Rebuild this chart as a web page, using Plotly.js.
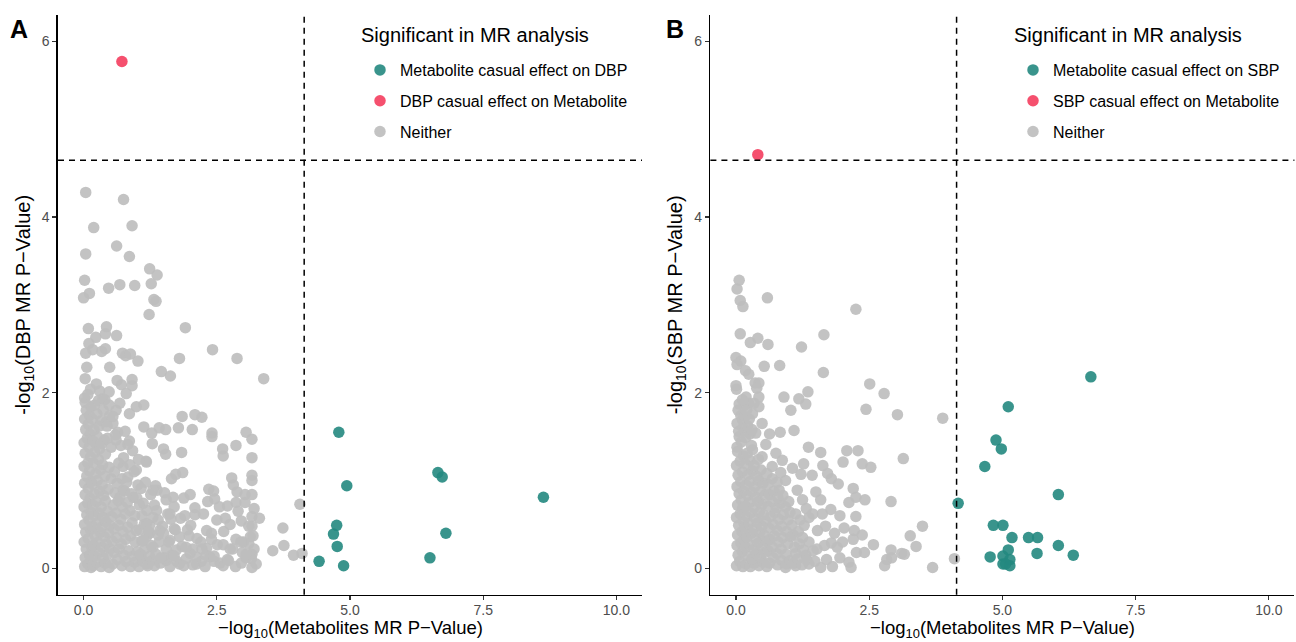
<!DOCTYPE html>
<html>
<head>
<meta charset="utf-8">
<script src="https://cdn.plot.ly/plotly-3.0.1.min.js"></script>
<style>html,body{margin:0;padding:0;background:#fff;}#chart{width:1296px;height:642px;}</style>
</head>
<body>
<div id="chart"></div>
<script>
// ---------- DATA ----------
const xTickVals = [0, 2.5, 5, 7.5, 10];
const xTickText = ["0.0", "2.5", "5.0", "7.5", "10.0"];
const yTickVals = [0, 2, 4, 6];
const yTickText = ["0", "2", "4", "6"];

const thresholdX = 4.14;   // metabolite -> BP threshold
const thresholdY = 4.645;  // BP -> metabolite threshold

const legendA = ["Metabolite casual effect on DBP", "DBP casual effect on Metabolite", "Neither"];
const legendB = ["Metabolite casual effect on SBP", "SBP casual effect on Metabolite", "Neither"];
const legendTitle = "Significant in MR analysis";
const xTitle = "\u2212log<sub>10</sub>(Metabolites MR P\u2212Value)";

// Panel A (DBP)
const redA = [[0.72, 5.77]];
const tealA = [[4.79,1.55],[6.65,1.09],[6.73,1.04],[4.94,0.94],[8.63,0.81],[4.75,0.49],[4.69,0.39],[6.80,0.40],[4.76,0.25],[6.50,0.12],[4.42,0.08],[4.88,0.03]];
const greyA = [
[0.04,4.28],[0.75,4.20],[0.19,3.88],[0.91,3.90],[0.62,3.67],[0.04,3.58],[0.86,3.55],[1.24,3.41],[1.38,3.34],[0.02,3.28],[0.68,3.23],[0.96,3.22],[1.27,3.24],[0.47,3.19],[0.11,3.13],[0.00,3.08],[1.32,3.06],[1.36,3.04],[1.23,2.89],[0.09,2.73],[0.43,2.75],[1.91,2.74],[0.23,2.63],[0.41,2.67],[0.62,2.65],[0.10,2.56],[0.17,2.49],[0.04,2.45],[0.34,2.47],[0.41,2.50],[0.73,2.45],[0.79,2.42],[0.88,2.44],[1.02,2.36],[2.42,2.49],[1.80,2.39],[2.88,2.39],[0.06,2.29],[0.49,2.29],[1.46,2.24],[1.63,2.19],[3.38,2.16],[0.03,2.16],[0.63,2.14],[0.91,2.15],[0.24,2.10],[0.71,2.09],[0.91,2.08],[0.13,2.04],[0.30,2.02],[0.48,2.01],[0.80,1.99],[0.02,1.94],[0.36,1.93],
[1.85,1.73],[2.09,1.75],[2.22,1.72],[1.13,1.61],[1.28,1.54],[1.42,1.60],[1.54,1.58],[1.78,1.60],[2.04,1.58],[2.41,1.54],[2.41,1.50],[3.05,1.55],[3.16,1.47],[0.83,1.41],[1.29,1.42],[1.50,1.36],[1.54,1.30],[1.84,1.32],[2.61,1.36],[2.62,1.28],[2.86,1.40],[3.16,1.26],[1.17,1.22],[1.65,1.02],[1.73,1.07],[1.86,1.09],[2.78,1.03],[2.81,0.95],[3.16,1.06],[3.16,1.00],[1.35,0.94],[1.38,0.89],[1.52,0.86],[1.68,0.81],[2.00,0.84],[2.35,0.90],[2.44,0.88],[2.33,0.76],[2.46,0.79],[2.88,0.87],[3.03,0.84],[3.16,0.84],[2.86,0.75],[3.03,0.75],[2.70,0.71],[3.20,0.68],[4.06,0.73],[2.09,0.69],[2.09,0.61],[1.82,0.57],[1.64,0.56],[2.66,0.57],[2.96,0.54],[3.16,0.59],[3.30,0.57],[3.16,0.48],[2.01,0.49],[2.31,0.43],[2.63,0.42],[3.74,0.46],[1.98,0.37],[2.13,0.34],[2.86,0.33],[3.13,0.36],[3.18,0.37],[2.51,0.27],[2.62,0.27],[3.10,0.28],[3.76,0.26],[2.31,0.23],[3.55,0.20],[3.94,0.15],[4.10,0.17],[2.98,0.18],[3.16,0.16],[3.15,0.11],[2.00,0.17],[1.93,0.11],[2.21,0.08],[2.56,0.06],[2.62,0.03],[2.96,0.06],[3.16,0.01],[1.80,0.05],[1.62,0.02],[1.42,0.30],[1.24,0.49],[1.24,0.40],[1.55,0.22],[1.33,0.03],[1.08,0.13],
[0.74,1.16],[0.99,1.12],[1.18,1.21],[0.83,1.04],[1.02,0.95],[1.30,0.89],[1.55,0.78],[0.74,0.89],[0.93,0.81],[1.12,0.74],[1.37,0.66],[1.62,0.62],[1.18,0.51],[0.99,0.43],[1.43,0.43],[1.80,0.36],[1.30,0.24],[1.62,0.32],[1.74,0.21],[2.12,0.13],[2.37,0.13],[1.18,0.05],[1.55,0.09],
[0.68,1.88],[0.99,1.84],[1.13,1.86],[0.86,1.76],[0.61,1.80],[0.49,1.74],[0.55,1.65],[0.64,1.55],[0.43,1.67],[0.61,1.46],[0.39,1.46],[0.24,1.42],
[0.02,0.02],[0.08,0.05],[0.14,0.01],[0.03,0.12],[0.11,0.15],[0.05,0.22],[0.15,0.25],[0.01,0.30],[0.09,0.34],[0.04,0.41],[0.13,0.44],[0.02,0.50],[0.10,0.55],[0.06,0.61],[0.14,0.64],[0.01,0.70],[0.08,0.74],[0.12,0.80],[0.03,0.84],[0.09,0.91],[0.02,0.97],[0.14,0.99],[0.06,1.05],[0.11,1.11],[0.01,1.16],[0.08,1.20],[0.13,1.27],[0.03,1.31],[0.10,1.38],[0.01,1.43],[0.07,1.48],[0.12,1.53],[0.04,1.58],[0.09,1.64],[0.02,1.70],[0.11,1.74],[0.05,1.80],[0.14,1.84],[0.03,1.89],[0.08,1.98],
[0.18,0.03],[0.25,0.07],[0.33,0.02],[0.41,0.06],[0.48,0.01],[0.21,0.14],[0.29,0.18],[0.37,0.12],[0.45,0.16],[0.19,0.26],[0.27,0.30],[0.35,0.24],[0.43,0.28],[0.50,0.22],[0.22,0.37],[0.31,0.41],[0.39,0.36],[0.47,0.40],[0.17,0.48],[0.26,0.52],[0.34,0.47],[0.42,0.53],[0.49,0.49],[0.20,0.60],[0.29,0.63],[0.37,0.58],[0.45,0.65],[0.18,0.72],[0.24,0.76],[0.33,0.70],[0.41,0.77],[0.21,0.85],[0.30,0.88],[0.38,0.83],[0.46,0.90],[0.17,0.96],[0.26,1.00],[0.35,0.95],[0.23,1.08],[0.32,1.12],[0.40,1.05],[0.19,1.20],[0.28,1.24],[0.36,1.18],[0.21,1.32],[0.30,1.36],[0.18,1.45],[0.26,1.50],[0.34,1.42],[0.20,1.58],[0.29,1.62],[0.17,1.70],[0.25,1.76],[0.33,1.68],[0.21,1.86],[0.28,1.91],[0.37,1.80],[0.44,1.62],[0.41,1.30],[0.48,1.15],[0.52,1.02],[0.45,1.48],[0.40,1.92],[0.48,1.86],[0.55,1.73],
[0.55,0.05],[0.63,0.10],[0.72,0.03],[0.80,0.08],[0.88,0.02],[0.96,0.07],[0.58,0.18],[0.67,0.22],[0.76,0.15],[0.85,0.20],[0.93,0.14],[1.01,0.19],[0.54,0.31],[0.62,0.35],[0.71,0.28],[0.79,0.33],[0.88,0.37],[0.97,0.30],[0.57,0.45],[0.66,0.49],[0.74,0.42],[0.83,0.47],[0.91,0.52],[0.53,0.59],[0.61,0.63],[0.70,0.56],[0.78,0.62],[0.87,0.66],[0.96,0.60],[0.56,0.72],[0.65,0.77],[0.73,0.70],[0.82,0.75],[0.59,0.86],[0.68,0.81],[0.77,0.88],[0.63,0.97],[0.72,1.02],[0.58,1.10],[0.81,0.98],[0.90,0.85],[1.00,0.80],[1.05,0.72],[0.66,1.20],[0.75,1.26],[0.87,1.18],[0.95,1.10],[1.03,1.24],[0.52,1.38],[0.70,1.40],[0.92,1.34],[0.60,1.52],[0.78,1.56],[0.86,1.45],
[1.04,0.02],[1.12,0.08],[1.20,0.03],[1.28,0.09],[1.07,0.16],[1.15,0.22],[1.24,0.14],[1.09,0.31],[1.18,0.36],[1.27,0.26],[1.05,0.44],[1.14,0.50],[1.22,0.42],[1.10,0.60],[1.19,0.66],[1.30,0.58],[1.08,0.91],[1.16,0.98],[1.26,0.84],[1.33,0.72],[1.36,0.16],[1.44,0.06],[1.40,0.38],[1.48,0.48],[1.52,0.12],[1.60,0.30],[1.58,0.62],[1.66,0.15],[1.72,0.44],[1.70,0.70],[1.75,0.08],[1.85,0.25],[1.90,0.60],[1.95,0.44],[1.88,0.80],[2.05,0.22],[2.12,0.05],[2.20,0.30],[2.25,0.62],[2.30,0.15],[2.40,0.40],[2.45,0.08],[2.50,0.55],[2.55,0.70],[2.70,0.10],[2.75,0.50],[2.80,0.22],[2.90,0.65],[3.00,0.30],[3.05,0.12],[3.10,0.48],[3.20,0.22],[3.24,0.05],
[1.45,0.12],[1.70,0.14],[1.88,0.03],[2.05,0.04],[2.28,0.02],[2.45,0.14],[2.72,0.09],[2.85,0.02],[3.05,0.16],[1.50,0.40],[1.70,0.45],[1.92,0.24],[2.22,0.22],[2.40,0.33],[2.75,0.22],[2.95,0.30],[1.12,0.32],[1.40,0.55]
];

// Panel B (SBP)
const redB = [[0.41, 4.71]];
const tealB = [[6.66,2.18],[5.11,1.84],[4.88,1.46],[4.98,1.36],[4.67,1.16],[6.05,0.84],[4.17,0.74],[4.83,0.49],[5.01,0.49],[5.18,0.35],[5.49,0.35],[5.66,0.35],[6.05,0.26],[5.11,0.21],[5.65,0.17],[6.33,0.15],[4.77,0.13],[5.01,0.14],[5.14,0.10],[5.01,0.05],[5.06,0.05],[5.14,0.03]];
const greyB = [
[0.06,3.28],[0.02,3.18],[0.08,3.05],[0.13,2.98],[0.59,3.08],[2.25,2.95],[0.08,2.67],[0.27,2.57],[0.41,2.62],[0.60,2.55],[1.23,2.52],[1.65,2.66],[0.00,2.40],[0.09,2.36],[0.02,2.32],[0.18,2.25],[0.24,2.21],[0.53,2.30],[0.82,2.31],[1.64,2.23],[0.00,2.08],[0.01,2.04],[0.36,2.11],[0.43,2.11],[0.39,2.05],[2.51,2.10],[2.78,1.99],[1.35,2.01],[0.90,1.95],[1.18,1.93],[1.31,1.87],[0.19,1.95],[0.43,1.95],[0.06,1.87],[0.15,1.85],[2.44,1.81],[1.03,1.80],[3.03,1.75],[3.88,1.71],
[1.09,1.57],[0.83,1.55],[0.63,1.53],[0.56,1.41],[1.36,1.38],[1.59,1.32],[2.08,1.34],[2.29,1.34],[2.01,1.21],[2.37,1.19],[2.53,1.15],[3.14,1.25],[1.27,1.19],[1.63,1.17],[1.72,1.08],[1.79,1.02],[1.92,0.96],[1.43,1.06],[1.22,1.07],[1.06,1.14],[2.20,0.91],[2.42,0.78],[2.12,0.75],[2.91,0.76],[2.25,0.81],[1.50,0.87],[1.59,0.78],[1.78,0.67],[1.62,0.62],[2.25,0.59],[2.03,0.46],[2.22,0.43],[2.37,0.38],[3.50,0.48],[3.27,0.37],[3.38,0.25],[2.58,0.27],[1.79,0.29],[1.90,0.24],[1.52,0.22],[2.20,0.33],[2.26,0.18],[2.41,0.18],[2.91,0.21],[2.83,0.10],[2.92,0.12],[3.11,0.17],[3.16,0.16],[2.79,0.03],[3.69,0.01],[4.10,0.11],[1.95,0.12],[2.12,0.07],[1.81,0.02],[2.16,0.01],[1.37,0.05],[1.59,0.01],[1.12,0.03],[0.93,0.01],[1.31,0.15],[1.12,0.17],[1.37,0.30],[1.53,0.43],[1.28,0.49],[1.37,0.58],[1.12,0.62],[1.25,0.78],[1.15,0.89],[0.81,0.89],[0.93,1.00],[0.75,1.31],[0.87,1.23],[0.68,1.16],[0.49,1.27],[0.31,1.35],[0.37,1.54],[0.49,1.65],[0.43,1.84],[0.31,1.76],[0.12,1.69],[0.06,1.50],[0.02,1.38],[0.24,1.88],
[0.01,0.03],[0.07,0.08],[0.13,0.02],[0.04,0.15],[0.12,0.19],[0.02,0.26],[0.09,0.29],[0.15,0.33],[0.03,0.38],[0.11,0.42],[0.05,0.49],[0.14,0.53],[0.01,0.58],[0.08,0.62],[0.12,0.68],[0.03,0.72],[0.10,0.78],[0.06,0.85],[0.14,0.88],[0.02,0.93],[0.09,0.99],[0.04,1.06],[0.12,1.10],[0.01,1.17],[0.08,1.22],[0.14,1.28],[0.03,1.33],[0.10,1.44],[0.05,1.56],[0.13,1.60],[0.02,1.65],[0.09,1.74],[0.04,1.80],[0.12,1.92],
[0.19,0.05],[0.27,0.02],[0.35,0.06],[0.43,0.03],[0.51,0.07],[0.58,0.02],[0.22,0.14],[0.30,0.11],[0.38,0.17],[0.46,0.13],[0.54,0.18],[0.18,0.24],[0.26,0.27],[0.34,0.22],[0.42,0.29],[0.50,0.25],[0.57,0.31],[0.21,0.36],[0.29,0.40],[0.37,0.34],[0.45,0.41],[0.53,0.38],[0.17,0.47],[0.25,0.51],[0.33,0.45],[0.41,0.52],[0.49,0.48],[0.56,0.54],[0.20,0.59],[0.28,0.63],[0.36,0.57],[0.44,0.64],[0.52,0.61],[0.18,0.71],[0.26,0.75],[0.34,0.69],[0.42,0.76],[0.50,0.73],[0.22,0.83],[0.30,0.87],[0.38,0.81],[0.46,0.88],[0.55,0.84],[0.19,0.95],[0.27,0.99],[0.35,0.93],[0.43,1.00],[0.51,0.97],[0.23,1.07],[0.31,1.11],[0.39,1.05],[0.47,1.12],[0.18,1.19],[0.26,1.23],[0.34,1.17],[0.42,1.24],[0.21,1.31],[0.29,1.40],[0.18,1.49],[0.26,1.53],[0.22,1.62],[0.30,1.58],[0.17,1.73],[0.25,1.70],[0.20,1.80],[0.34,1.88],
[0.63,0.06],[0.70,0.12],[0.78,0.04],[0.86,0.09],[0.95,0.05],[0.61,0.20],[0.69,0.24],[0.77,0.17],[0.85,0.22],[0.94,0.16],[1.02,0.09],[0.64,0.33],[0.72,0.37],[0.80,0.30],[0.88,0.35],[0.97,0.28],[0.62,0.46],[0.70,0.50],[0.78,0.43],[0.86,0.48],[0.95,0.42],[1.03,0.36],[0.65,0.59],[0.73,0.63],[0.81,0.56],[0.89,0.61],[0.98,0.55],[0.60,0.71],[0.68,0.76],[0.76,0.69],[0.84,0.74],[0.93,0.70],[0.63,0.84],[0.71,0.88],[0.79,0.80],[0.88,0.83],[0.60,0.96],[0.68,1.02],[0.77,0.98],[0.58,1.08],[0.84,1.09],[0.99,0.76],[1.05,0.49],[1.01,0.64],
[1.08,0.06],[1.16,0.11],[1.24,0.04],[1.33,0.10],[1.10,0.24],[1.19,0.28],[1.27,0.21],[1.08,0.38],[1.17,0.42],[1.25,0.35],[1.20,0.55],[1.32,0.68],[1.45,0.20],[1.48,0.08],[1.44,0.62],[1.66,0.26],[1.70,0.10],[1.68,0.48],[1.85,0.40],[2.00,0.30],[1.95,0.60]
];

// ---------- FIGURE ----------
const teal = 'rgba(35,136,128,0.9)';
const red = '#F5506E';
const grey = 'rgba(190,190,190,0.92)';
const FONT = 'Liberation Sans, Arial, Helvetica, sans-serif';
const MS = 11.5;

function pts(arr, i) { return arr.map(p => p[i]); }

function sc(arr, name, color, xa, ya, leg, rank) {
  return {
    type: 'scatter', mode: 'markers', name: name,
    x: pts(arr, 0), y: pts(arr, 1), xaxis: xa, yaxis: ya,
    legend: leg, legendrank: rank, legendgroup: leg + '_' + rank,
    marker: { color: color, size: MS, line: { width: 0 } },
    hoverinfo: 'x+y'
  };
}

const data = [
  sc(greyA, legendA[2], grey, 'x', 'y', 'legend', 3),
  sc(tealA, legendA[0], teal, 'x', 'y', 'legend', 1),
  sc(redA, legendA[1], red, 'x', 'y', 'legend', 2),
  sc(greyB, legendB[2], grey, 'x2', 'y2', 'legend2', 3),
  sc(tealB, legendB[0], teal, 'x2', 'y2', 'legend2', 1),
  sc(redB, legendB[1], red, 'x2', 'y2', 'legend2', 2)
];

const W = 1296, H = 642;
const yDom = [1 - 594.7 / H, 1 - 15 / H];
const xDomA = [58 / W, 642 / W];
const xDomB = [710.4 / W, 1294.4 / W];

function xAxis(dom, anchor) {
  return {
    domain: dom, anchor: anchor, range: [-0.48, 10.48],
    tickvals: xTickVals, ticktext: xTickText,
    showline: true, linecolor: 'black', linewidth: 1.6,
    ticks: 'outside', ticklen: 4, tickwidth: 1.1, tickcolor: '#333',
    ticklabelstandoff: -2,
    tickfont: { family: FONT, size: 14, color: '#4D4D4D' },
    showgrid: false, zeroline: false, automargin: false
  };
}
function yAxis(anchor, label) {
  return {
    domain: yDom, anchor: anchor, range: [-0.3, 6.3],
    tickvals: yTickVals, ticktext: yTickText,
    showline: true, linecolor: 'black', linewidth: 1.6,
    ticks: 'outside', ticklen: 4, tickwidth: 1.1, tickcolor: '#333',
    tickfont: { family: FONT, size: 14, color: '#4D4D4D' },
    showgrid: false, zeroline: false, automargin: false,
    title: { text: '-log<sub>10</sub>(' + label + ' MR P\u2212Value)', font: { family: FONT, size: 20, color: 'black' }, standoff: 6 }
  };
}
function legendCfg(px) {
  return {
    x: px / W, y: 1 - 53 / H, xanchor: 'left', yanchor: 'top',
    bgcolor: 'rgba(0,0,0,0)', borderwidth: 0,
    font: { family: FONT, size: 16, color: 'black' },
    itemsizing: 'trace', tracegroupgap: 7, traceorder: 'grouped'
  };
}

function dashShapes(xr, yr) {
  return [
    { type: 'line', xref: xr + ' domain', yref: yr, x0: 0, x1: 1, y0: thresholdY, y1: thresholdY,
      line: { color: 'black', width: 1.5, dash: '6px,5px' } },
    { type: 'line', xref: xr, yref: yr + ' domain', x0: thresholdX, x1: thresholdX, y0: 0, y1: 1,
      line: { color: 'black', width: 1.5, dash: '6px,5px' } }
  ];
}

function titleAnn(px) {
  return { text: legendTitle, xref: 'paper', yref: 'paper', x: px / W, y: 1 - 35 / H,
    xanchor: 'left', yanchor: 'middle', showarrow: false,
    font: { family: FONT, size: 20, color: 'black' } };
}
function xTitleAnn(dom) {
  return { text: xTitle, xref: 'paper', yref: 'paper', x: (dom[0] + dom[1]) / 2, y: 0,
    xanchor: 'center', yanchor: 'bottom', showarrow: false, borderpad: 0,
    font: { family: FONT, size: 18.5, color: 'black' } };
}

const layout = {
  width: W, height: H,
  margin: { l: 0, r: 0, t: 0, b: 0, pad: 0 },
  paper_bgcolor: 'white', plot_bgcolor: 'white',
  font: { family: FONT },
  showlegend: true,
  xaxis: xAxis(xDomA, 'y'),
  yaxis: yAxis('x', 'DBP'),
  xaxis2: xAxis(xDomB, 'y2'),
  yaxis2: yAxis('x2', 'SBP'),
  legend: legendCfg(360),
  legend2: legendCfg(1013),
  shapes: dashShapes('x', 'y').concat(dashShapes('x2', 'y2')),
  annotations: [
    titleAnn(359), titleAnn(1012),
    xTitleAnn(xDomA), xTitleAnn(xDomB),
    { text: '<b>A</b>', xref: 'paper', yref: 'paper', x: 8 / W, y: 1 - 13 / H, xanchor: 'left', yanchor: 'top', showarrow: false, font: { family: FONT, size: 25, color: 'black' } },
    { text: '<b>B</b>', xref: 'paper', yref: 'paper', x: 664 / W, y: 1 - 13 / H, xanchor: 'left', yanchor: 'top', showarrow: false, font: { family: FONT, size: 25, color: 'black' } }
  ]
};

Plotly.newPlot('chart', data, layout, { displayModeBar: false, staticPlot: true });
</script>
</body>
</html>
